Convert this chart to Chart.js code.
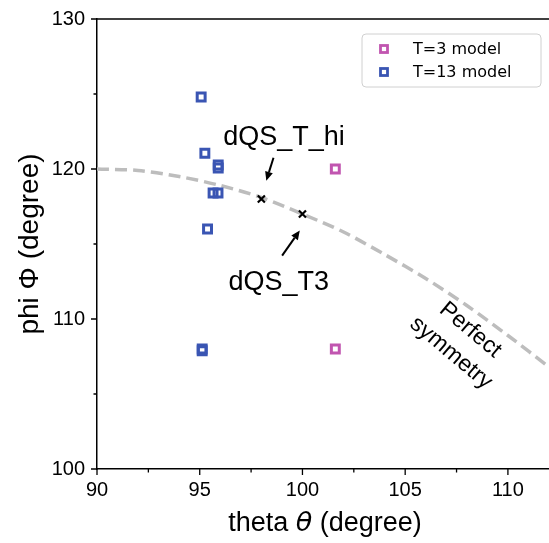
<!DOCTYPE html>
<html>
<head>
<meta charset="utf-8">
<script src="https://cdn.jsdelivr.net/npm/chart.js@4"></script>
<style>
  html, body { margin: 0; padding: 0; background: #fff; }
  #wrap { width: 549px; height: 543px; }
</style>
</head>
<body>
<div id="wrap"><canvas id="chart" width="549" height="543"></canvas></div>
<script>
// ---- Data ----
const T3_THETA = [101.6, 101.6];
const T3_PHI = [120.0, 108.0];

const T13_THETA = [95.07, 95.25, 95.9, 95.9, 95.65, 95.89, 95.38, 95.12, 95.12];
const T13_PHI = [124.8, 121.05, 120.27, 120.07, 118.4, 118.4, 116.0, 108.0, 107.88];

const DQS_THETA = [98.0, 100.0];
const DQS_PHI = [118.0, 117.0];

// perfect symmetry line, sampled along the dashed curve
const CURVE_THETA = [90, 92, 94, 96, 98, 100, 102, 104, 106, 108, 110, 112];
const CURVE_PHI = [120.0, 119.9, 119.5, 118.9, 118.1, 117.0, 115.8, 114.3, 112.7, 110.9, 108.9, 106.8];

const X_MAJOR = [90, 95, 100, 105, 110];
const X_MINOR = [92.5, 97.5, 102.5, 107.5];
const Y_MAJOR = [100, 110, 120, 130];
const Y_MINOR = [105, 115, 125];

const PINK = '#c155b0';
const BLUE = '#3a55b3';
const SANS = '"Liberation Sans", Arial, sans-serif';

const pts = (xs, ys) => xs.map((x, i) => ({ x, y: ys[i] }));

// ---- Extra drawing: tick marks, spines, titles, notes, legend ----
const decor = {
  id: 'decor',
  afterDraw(chart) {
    const { ctx, chartArea: a, scales: { x, y } } = chart;
    ctx.save();
    ctx.strokeStyle = '#000';
    ctx.lineWidth = 1.3;
    ctx.beginPath();
    X_MAJOR.forEach(v => { const px = x.getPixelForValue(v); ctx.moveTo(px, a.bottom); ctx.lineTo(px, a.bottom + 6); });
    X_MINOR.forEach(v => { const px = x.getPixelForValue(v); ctx.moveTo(px, a.bottom); ctx.lineTo(px, a.bottom + 3.5); });
    Y_MAJOR.forEach(v => { const py = y.getPixelForValue(v); ctx.moveTo(a.left, py); ctx.lineTo(a.left - 6, py); });
    Y_MINOR.forEach(v => { const py = y.getPixelForValue(v); ctx.moveTo(a.left, py); ctx.lineTo(a.left - 3.5, py); });
    ctx.stroke();

    // top spine
    ctx.lineWidth = 1.5;
    ctx.beginPath();
    ctx.moveTo(a.left, a.top);
    ctx.lineTo(a.right, a.top);
    ctx.stroke();

    // axis titles
    ctx.fillStyle = '#000';
    ctx.textBaseline = 'alphabetic';
    const parts = [
      { t: 'theta ', f: '27px ' + SANS },
      { t: '\u03B8', f: 'italic 27px "DejaVu Sans"' },
      { t: ' (degree)', f: '27px ' + SANS },
    ];
    let total = 0;
    parts.forEach(p => { ctx.font = p.f; p.w = ctx.measureText(p.t).width; total += p.w; });
    let cx = 325 - total / 2;
    ctx.textAlign = 'left';
    parts.forEach(p => { ctx.font = p.f; ctx.fillText(p.t, cx, 531); cx += p.w; });

    ctx.save();
    ctx.translate(30, (a.top + a.bottom) / 2);
    ctx.rotate(-Math.PI / 2);
    ctx.font = '28px ' + SANS;
    ctx.textAlign = 'center';
    ctx.textBaseline = 'middle';
    ctx.fillText('phi \u03A6 (degree)', 0, 0);
    ctx.restore();

    // notes with arrows
    ctx.font = '27px ' + SANS;
    ctx.textAlign = 'center';
    ctx.textBaseline = 'middle';
    ctx.fillText('dQS_T_hi', x.getPixelForValue(99.1), y.getPixelForValue(122.1));
    ctx.fillText('dQS_T3', x.getPixelForValue(98.85), y.getPixelForValue(112.4));
    arrow(ctx, x.getPixelForValue(98.59), y.getPixelForValue(120.75), x.getPixelForValue(98.24), y.getPixelForValue(119.22));
    arrow(ctx, x.getPixelForValue(99.01), y.getPixelForValue(114.23), x.getPixelForValue(99.87), y.getPixelForValue(115.9));

    ctx.save();
    ctx.translate(x.getPixelForValue(107.7), y.getPixelForValue(108.5));
    ctx.rotate(40 * Math.PI / 180);
    ctx.font = '23px ' + SANS;
    ctx.fillText('Perfect', 0, -15);
    ctx.fillText('symmetry', 0, 15);
    ctx.restore();

    // legend box
    ctx.beginPath();
    ctx.roundRect(362, 34, 179, 53, 4);
    ctx.fillStyle = 'rgba(255,255,255,0.8)';
    ctx.fill();
    ctx.strokeStyle = '#d0d0d0';
    ctx.lineWidth = 1;
    ctx.stroke();
    const items = chart.data.datasets.filter(d => d.legendRow != null).sort((p, q) => p.legendRow - q.legendRow);
    items.forEach((d, i) => {
      const my = 49 + i * 23;
      ctx.strokeStyle = d.borderColor;
      ctx.lineWidth = 2.8;
      ctx.strokeRect(384 - 3.5, my - 3.5, 7, 7);
      ctx.fillStyle = '#000';
      ctx.font = '16px "DejaVu Sans"';
      ctx.textAlign = 'left';
      ctx.textBaseline = 'middle';
      ctx.fillText(d.label, 413, my + 1);
    });
    ctx.restore();
  }
};

function arrow(ctx, x0, y0, x1, y1) {
  const ang = Math.atan2(y1 - y0, x1 - x0);
  const hl = 9, hw = 4;
  const bx = x1 - hl * Math.cos(ang), by = y1 - hl * Math.sin(ang);
  ctx.strokeStyle = '#000';
  ctx.fillStyle = '#000';
  ctx.lineWidth = 2;
  ctx.beginPath();
  ctx.moveTo(x0, y0);
  ctx.lineTo(bx, by);
  ctx.stroke();
  ctx.beginPath();
  ctx.moveTo(x1, y1);
  ctx.lineTo(bx + hw * Math.sin(ang), by - hw * Math.cos(ang));
  ctx.lineTo(bx - hw * Math.sin(ang), by + hw * Math.cos(ang));
  ctx.closePath();
  ctx.fill();
}

// ---- Chart ----
const squareSet = (label, row, xs, ys, color) => ({
  label, legendRow: row,
  data: pts(xs, ys),
  pointStyle: 'rect', pointRadius: 5.6, pointHoverRadius: 5.6,
  borderColor: color, backgroundColor: 'rgba(0,0,0,0)', pointBorderWidth: 3,
});

new Chart(document.getElementById('chart'), {
  type: 'scatter',
  data: {
    datasets: [
      { label: 'dQS', data: pts(DQS_THETA, DQS_PHI), pointStyle: 'crossRot', pointRadius: 5, borderColor: '#000', pointBorderWidth: 2.2 },
      squareSet('T=13 model', 1, T13_THETA, T13_PHI, BLUE),
      squareSet('T=3 model', 0, T3_THETA, T3_PHI, PINK),
      { label: 'Perfect symmetry', data: pts(CURVE_THETA, CURVE_PHI), showLine: true, pointRadius: 0,
        borderColor: '#bdbdbd', borderWidth: 3.5, borderDash: [12, 6], tension: 0.3 },
    ]
  },
  options: {
    responsive: false,
    animation: false,
    layout: { autoPadding: false, padding: { top: 19, right: 0, left: 0, bottom: 0 } },
    plugins: { legend: { display: false }, tooltip: { enabled: false } },
    scales: {
      x: {
        min: 90, max: 112,
        afterBuildTicks: s => { s.ticks = X_MAJOR.map(v => ({ value: v })); },
        afterFit: s => { s.height = 74; s.paddingLeft = 0; s.paddingRight = 0; },
        grid: { display: false, drawTicks: true, tickLength: 6 },
        border: { display: true, color: '#000', width: 1.5 },
        ticks: { color: '#000', padding: 3, maxRotation: 0, font: { family: SANS, size: 20 } },
      },
      y: {
        min: 100, max: 130,
        afterBuildTicks: s => { s.ticks = Y_MAJOR.map(v => ({ value: v })); },
        afterFit: s => { s.width = 97; s.paddingTop = 0; s.paddingBottom = 0; },
        grid: { display: false, drawTicks: true, tickLength: 6 },
        border: { display: true, color: '#000', width: 1.5 },
        ticks: { color: '#000', padding: 6, font: { family: SANS, size: 20 } },
      }
    }
  },
  plugins: [decor]
});
</script>
</body>
</html>
